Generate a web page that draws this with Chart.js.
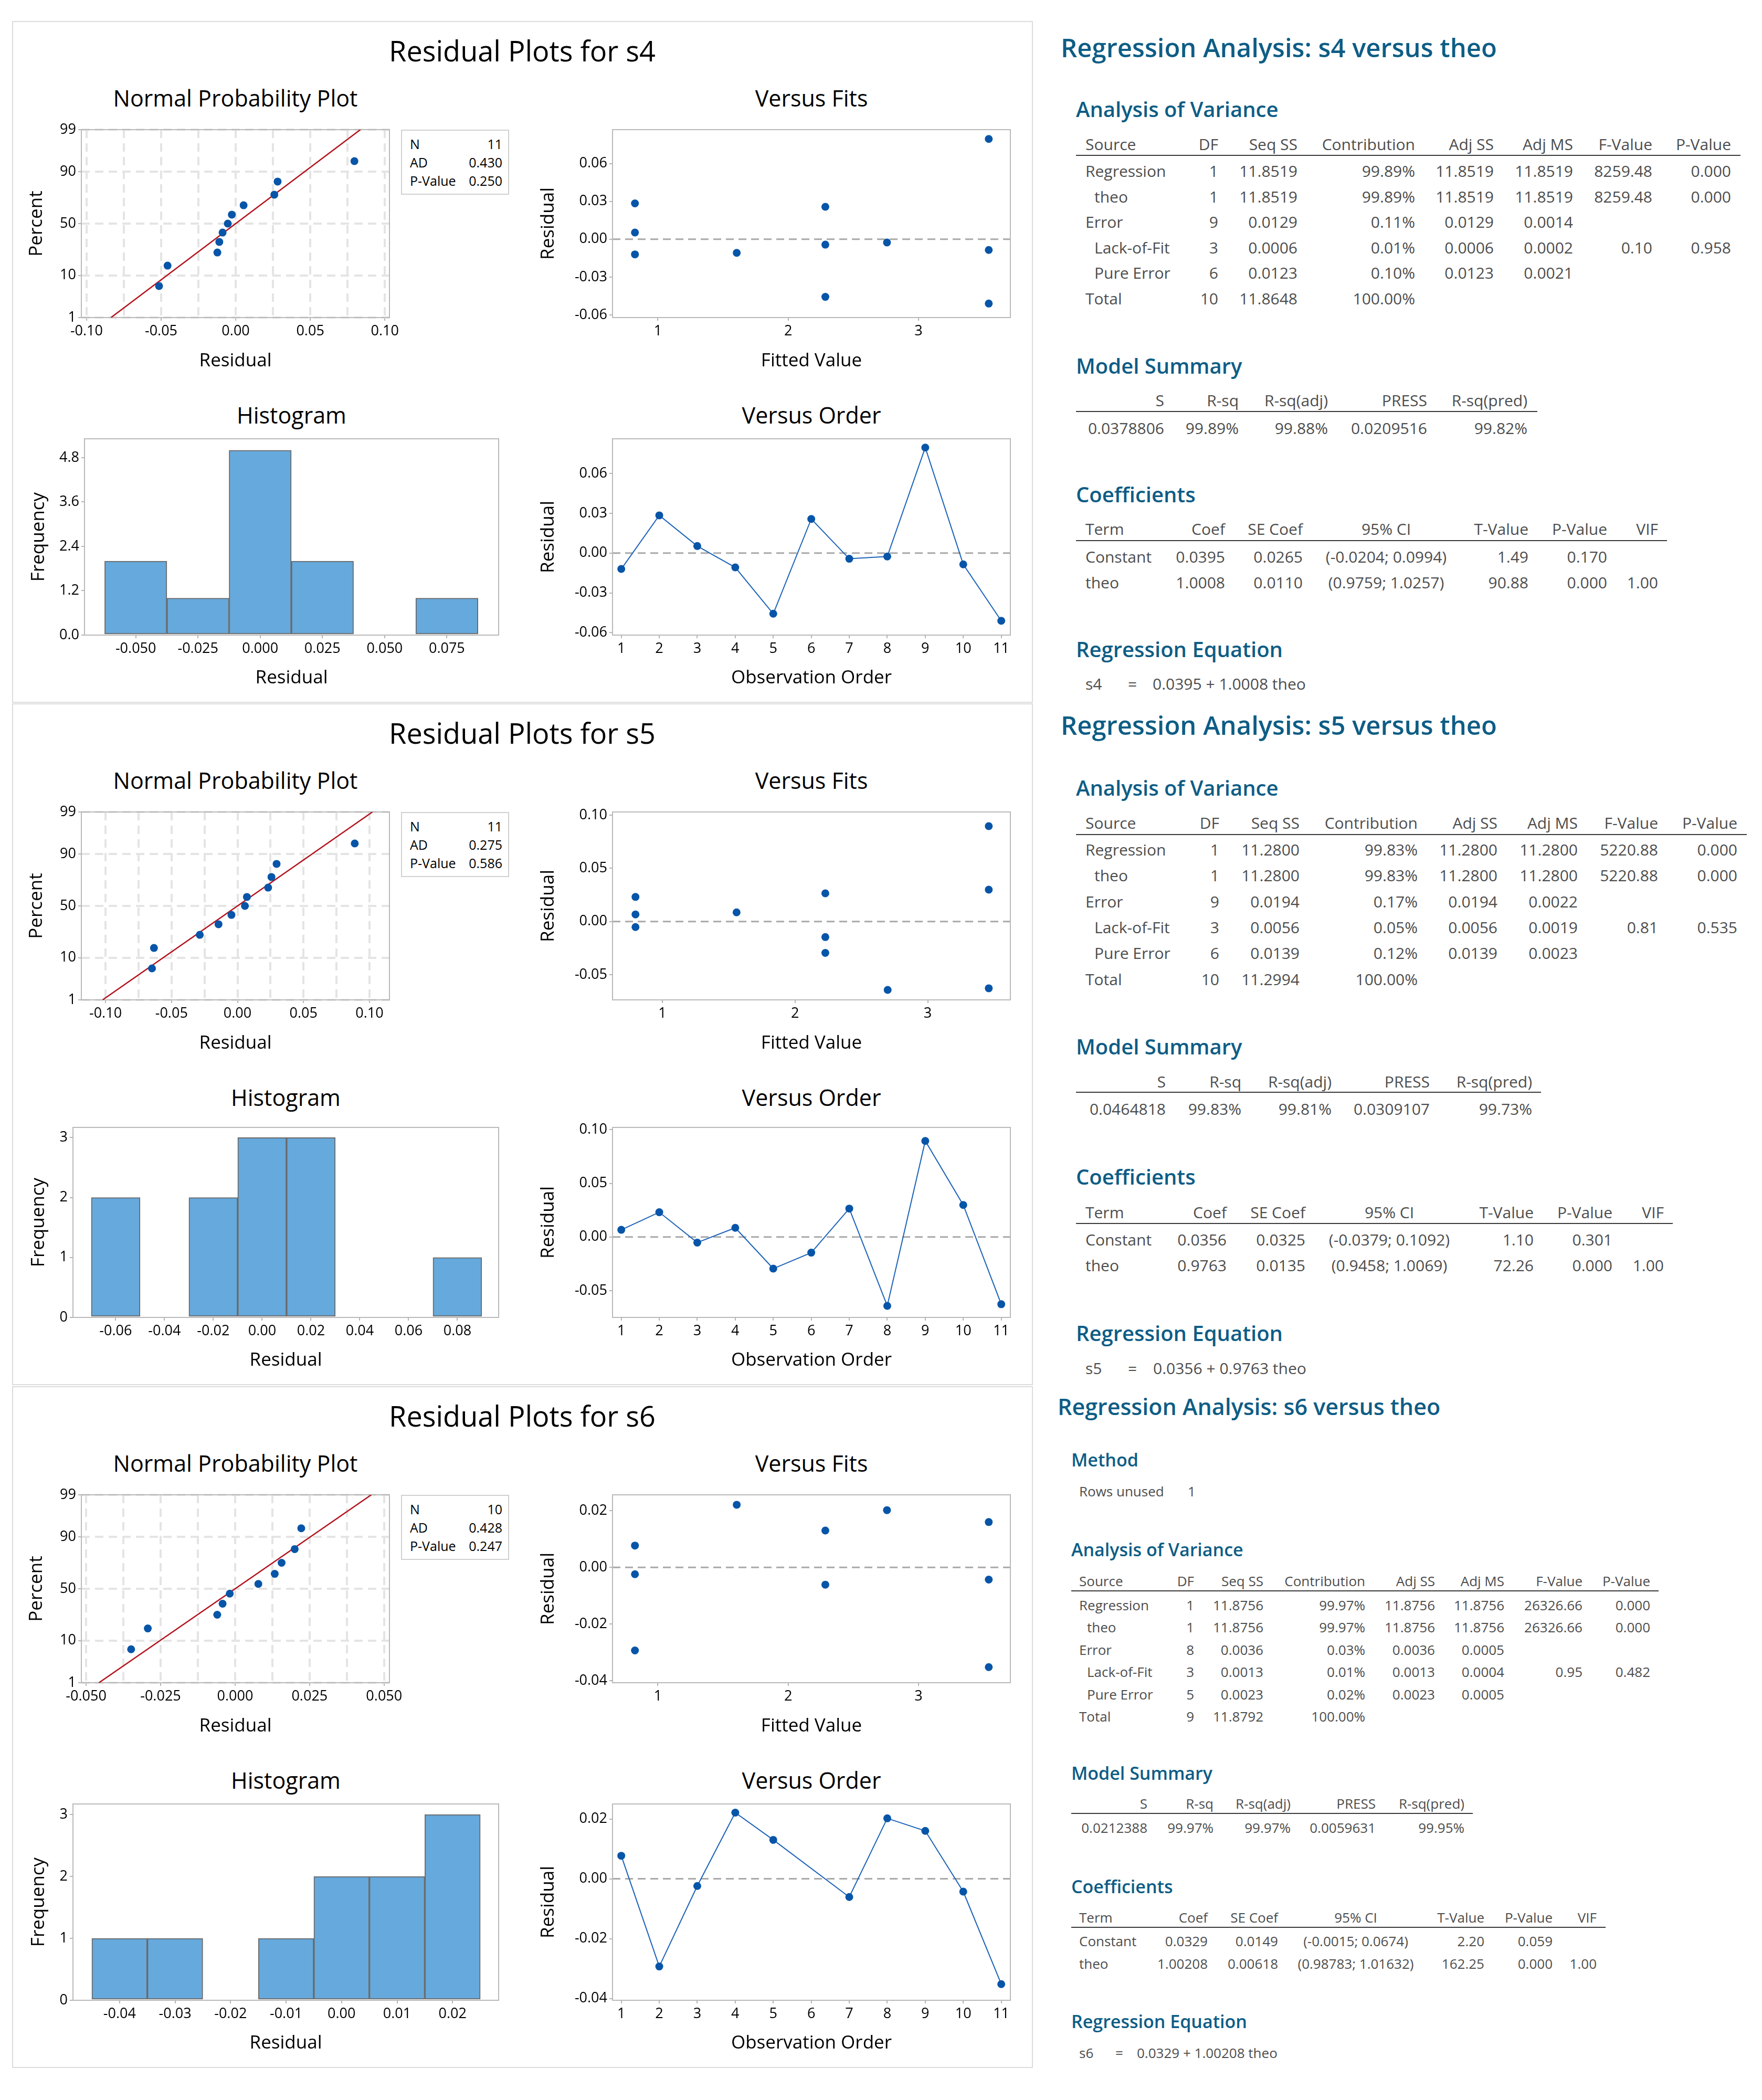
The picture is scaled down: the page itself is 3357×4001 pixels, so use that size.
<!DOCTYPE html>
<html>
<head>
<meta charset="utf-8">
<title>Residual Plots / Regression Analysis: s4, s5, s6 versus theo</title>
<script src="https://cdn.jsdelivr.net/npm/chart.js@4.4.1/dist/chart.umd.min.js"></script>
<style>
  html, body { margin: 0; padding: 0; background: #fff; }
  body { position: relative; width: 3357px; height: 4001px; overflow: hidden; font-family: 'Open Sans', sans-serif; }
  .panel { position: absolute; left: 23px; width: 1945px; height: 1299px; border: 2px solid #dcdcdc; box-sizing: border-box; }
  .t { position: absolute; white-space: pre; line-height: 1.25; color: #000; }
  .ptitle { font-size: 54px; }
  .sub { font-size: 43px; }
  .leg { position: absolute; border: 2px solid #d0d0d0; box-sizing: border-box; background: #fff; }
  .legt { font-size: 25px; }
  .rtitle, .rhead { font-weight: 600; color: #0e5d85; }
  .cell { color: #4d4d4d; }
  .rule { position: absolute; height: 2px; background: #3a3a3a; }
  canvas { position: absolute; }
</style>
</head>
<body>
<script>
'use strict';

// ── Datos ──────────────────────────────────────────────────────────────
const obsOrder = [1, 2, 3, 4, 5, 6, 7, 8, 9, 10, 11];
const fitLinePct = [1, 99];
const pctTicks = [1, 10, 50, 90, 99];
const fitTicks = [1, 2, 3];

// s4
const s4Resid  = [-0.0120, 0.0284, 0.0053, -0.0108, -0.0457, 0.0257, -0.0043, -0.0026, 0.0795, -0.0085, -0.0510];
const s4Fitted = [0.824, 0.824, 0.824, 1.605, 2.285, 2.285, 2.285, 2.758, 3.539, 3.539, 3.539];
const s4NppResid = [-0.0514, -0.0457, -0.0123, -0.0110, -0.0088, -0.0053, -0.0026, 0.0053, 0.0259, 0.0281, 0.0796];
const s4NppPct   = [6.1, 14.9, 23.7, 32.5, 41.2, 50.0, 58.8, 67.5, 76.3, 85.1, 93.9];
const s4LineResid = [-0.0836, 0.0836];
const s4HistBins   = [-0.050, -0.025, 0.000, 0.025, 0.050, 0.075];
const s4HistCounts = [2, 1, 5, 2, 0, 1];
const s4Legend = [['N', '11'], ['AD', '0.430'], ['P-Value', '0.250']];
const s4NppTicks   = [-0.1, -0.075, -0.05, -0.025, 0, 0.025, 0.05, 0.075, 0.1];
const s4ResidTicks = [-0.06, -0.03, 0, 0.03, 0.06];
const s4FreqTicks  = [0, 1.2, 2.4, 3.6, 4.8];

// s5
const s5Resid  = [0.0067, 0.0231, -0.0052, 0.0086, -0.0295, -0.0146, 0.0265, -0.0642, 0.0896, 0.0299, -0.0627];
const s5Fitted = [0.797, 0.797, 0.797, 1.559, 2.228, 2.228, 2.228, 2.698, 3.460, 3.460, 3.460];
const s5NppResid = [-0.0648, -0.0633, -0.0286, -0.0144, -0.0046, 0.0056, 0.0071, 0.0232, 0.0257, 0.0296, 0.0888];
const s5NppPct   = [6.1, 14.9, 23.7, 32.5, 41.2, 50.0, 58.8, 67.5, 76.3, 85.1, 93.9];
const s5LineResid = [-0.1022, 0.1022];
const s5HistBins   = [-0.06, -0.04, -0.02, 0.00, 0.02, 0.04, 0.06, 0.08];
const s5HistCounts = [2, 0, 2, 3, 3, 0, 0, 1];
const s5Legend = [['N', '11'], ['AD', '0.275'], ['P-Value', '0.586']];
const s5NppTicks   = [-0.1, -0.075, -0.05, -0.025, 0, 0.025, 0.05, 0.075, 0.1];
const s5ResidTicks = [-0.05, 0, 0.05, 0.10];
const s5FreqTicks  = [0, 1, 2, 3];

// s6 (observacion 6 sin usar)
const s6Resid  = [0.0077, -0.0293, -0.0024, 0.0221, 0.0130, null, -0.0061, 0.0202, 0.0160, -0.0043, -0.0352];
const s6Fitted = [0.824, 0.824, 0.824, 1.605, 2.285, 2.285, 2.285, 2.758, 3.539, 3.539, 3.539];
const s6NppResid = [-0.0349, -0.0293, -0.0060, -0.0042, -0.0018, 0.0078, 0.0133, 0.0156, 0.0200, 0.0222];
const s6NppPct   = [6.7, 16.3, 26.0, 35.6, 45.2, 54.8, 64.4, 74.0, 83.7, 93.3];
const s6LineResid = [-0.0457, 0.0457];
const s6HistBins   = [-0.04, -0.03, -0.02, -0.01, 0.00, 0.01, 0.02];
const s6HistCounts = [1, 1, 0, 1, 2, 2, 3];
const s6Legend = [['N', '10'], ['AD', '0.428'], ['P-Value', '0.247']];
const s6NppTicks   = [-0.05, -0.0375, -0.025, -0.0125, 0, 0.0125, 0.025, 0.0375, 0.05];
const s6ResidTicks = [-0.04, -0.02, 0, 0.02];
const s6FreqTicks  = [0, 1, 2, 3];

// ── Tablas de la regresion ─────────────────────────────────────────────
const aovHead  = ['Source', 'DF', 'Seq SS', 'Contribution', 'Adj SS', 'Adj MS', 'F-Value', 'P-Value'];
const msHead   = ['S', 'R-sq', 'R-sq(adj)', 'PRESS', 'R-sq(pred)'];
const coefHead = ['Term', 'Coef', 'SE Coef', '95% CI', 'T-Value', 'P-Value', 'VIF'];

const s4Aov = [
  ['Regression', '1', '11.8519', '99.89%', '11.8519', '11.8519', '8259.48', '0.000'],
  [' theo', '1', '11.8519', '99.89%', '11.8519', '11.8519', '8259.48', '0.000'],
  ['Error', '9', '0.0129', '0.11%', '0.0129', '0.0014', '', ''],
  [' Lack-of-Fit', '3', '0.0006', '0.01%', '0.0006', '0.0002', '0.10', '0.958'],
  [' Pure Error', '6', '0.0123', '0.10%', '0.0123', '0.0021', '', ''],
  ['Total', '10', '11.8648', '100.00%', '', '', '', ''],
];
const s4Ms = ['0.0378806', '99.89%', '99.88%', '0.0209516', '99.82%'];
const s4Coef = [
  ['Constant', '0.0395', '0.0265', '(-0.0204; 0.0994)', '1.49', '0.170', ''],
  ['theo', '1.0008', '0.0110', '(0.9759; 1.0257)', '90.88', '0.000', '1.00'],
];
const s4Eq = ['s4', '=', '0.0395 + 1.0008 theo'];

const s5Aov = [
  ['Regression', '1', '11.2800', '99.83%', '11.2800', '11.2800', '5220.88', '0.000'],
  [' theo', '1', '11.2800', '99.83%', '11.2800', '11.2800', '5220.88', '0.000'],
  ['Error', '9', '0.0194', '0.17%', '0.0194', '0.0022', '', ''],
  [' Lack-of-Fit', '3', '0.0056', '0.05%', '0.0056', '0.0019', '0.81', '0.535'],
  [' Pure Error', '6', '0.0139', '0.12%', '0.0139', '0.0023', '', ''],
  ['Total', '10', '11.2994', '100.00%', '', '', '', ''],
];
const s5Ms = ['0.0464818', '99.83%', '99.81%', '0.0309107', '99.73%'];
const s5Coef = [
  ['Constant', '0.0356', '0.0325', '(-0.0379; 0.1092)', '1.10', '0.301', ''],
  ['theo', '0.9763', '0.0135', '(0.9458; 1.0069)', '72.26', '0.000', '1.00'],
];
const s5Eq = ['s5', '=', '0.0356 + 0.9763 theo'];

const s6Aov = [
  ['Regression', '1', '11.8756', '99.97%', '11.8756', '11.8756', '26326.66', '0.000'],
  [' theo', '1', '11.8756', '99.97%', '11.8756', '11.8756', '26326.66', '0.000'],
  ['Error', '8', '0.0036', '0.03%', '0.0036', '0.0005', '', ''],
  [' Lack-of-Fit', '3', '0.0013', '0.01%', '0.0013', '0.0004', '0.95', '0.482'],
  [' Pure Error', '5', '0.0023', '0.02%', '0.0023', '0.0005', '', ''],
  ['Total', '9', '11.8792', '100.00%', '', '', '', ''],
];
const s6Ms = ['0.0212388', '99.97%', '99.97%', '0.0059631', '99.95%'];
const s6Coef = [
  ['Constant', '0.0329', '0.0149', '(-0.0015; 0.0674)', '2.20', '0.059', ''],
  ['theo', '1.00208', '0.00618', '(0.98783; 1.01632)', '162.25', '0.000', '1.00'],
];
const s6Eq = ['s6', '=', '0.0329 + 1.00208 theo'];
const s6Method = ['Rows unused', '1'];

// ── Estilo ─────────────────────────────────────────────────────────────
const BLUE = '#0755a8';
const LINE_BLUE = '#1a62b8';
const RED = '#b3121c';
const FRAME = '#b9b9b9';
const TICK_FS = 27;
const AXIS_FS = 35;
const PAD_T = 30, PAD_R = 45;

Chart.defaults.font.family = "'Open Sans', sans-serif";
Chart.defaults.color = '#000';

// ── Escala de probabilidad normal (Minitab) ────────────────────────────
function probit(p) {
  const a = [-3.969683028665376e+01, 2.209460984245205e+02, -2.759285104469687e+02, 1.383577518672690e+02, -3.066479806614716e+01, 2.506628277459239e+00];
  const b = [-5.447609879822406e+01, 1.615858368580409e+02, -1.556989798598866e+02, 6.680131188771972e+01, -1.328068155288572e+01];
  const c = [-7.784894002430293e-03, -3.223964580411365e-01, -2.400758277161838e+00, -2.549732539343734e+00, 4.374664141464968e+00, 2.938163982698783e+00];
  const d = [7.784695709041462e-03, 3.224671290700398e-01, 2.445134137142996e+00, 3.754408661907416e+00];
  const lo = 0.02425;
  if (p < lo) {
    const q = Math.sqrt(-2 * Math.log(p));
    return (((((c[0] * q + c[1]) * q + c[2]) * q + c[3]) * q + c[4]) * q + c[5]) / ((((d[0] * q + d[1]) * q + d[2]) * q + d[3]) * q + 1);
  }
  if (p > 1 - lo) return -probit(1 - p);
  const q = p - 0.5, r = q * q;
  return (((((a[0] * r + a[1]) * r + a[2]) * r + a[3]) * r + a[4]) * r + a[5]) * q / (((((b[0] * r + b[1]) * r + b[2]) * r + b[3]) * r + b[4]) * r + 1);
}

class ProbitScale extends Chart.Scale {
  determineDataLimits() {
    this.min = this.options.min;
    this.max = this.options.max;
  }
  buildTicks() {
    return pctTicks.map(v => ({ value: v }));
  }
  getLabelForValue(v) { return String(v); }
  configure() {
    super.configure();
    this._zMin = probit(this.min / 100);
    this._zRange = probit(this.max / 100) - this._zMin;
  }
  getPixelForValue(v) {
    return this.getPixelForDecimal((probit(v / 100) - this._zMin) / this._zRange);
  }
  getValueForPixel(px) {
    return this.min + (this.max - this.min) * this.getDecimalForPixel(px);
  }
}
ProbitScale.id = 'probit';
ProbitScale.defaults = {};
Chart.register(ProbitScale);

// marco del area de trazado + linea de referencia en cero
const framePlugin = {
  id: 'frame',
  defaults: { zeroLine: false },
  beforeDatasetsDraw(chart, args, opts) {
    const { ctx, chartArea: a } = chart;
    ctx.save();
    if (opts.zeroLine) {
      const y = chart.scales.y.getPixelForValue(0);
      ctx.strokeStyle = '#a9a9a9';
      ctx.lineWidth = 3;
      ctx.setLineDash([15, 9]);
      ctx.beginPath();
      ctx.moveTo(a.left, y);
      ctx.lineTo(a.right, y);
      ctx.stroke();
      ctx.setLineDash([]);
    }
    ctx.strokeStyle = FRAME;
    ctx.lineWidth = 2;
    ctx.strokeRect(a.left, a.top, a.right - a.left, a.bottom - a.top);
    ctx.restore();
  },
};
Chart.register(framePlugin);

// ── Helpers ────────────────────────────────────────────────────────────
function put(x, y, text, cls, align, size) {
  const d = document.createElement('div');
  d.className = 't ' + (cls || '');
  d.textContent = text;
  d.style.left = x + 'px';
  d.style.top = y + 'px';
  if (size) d.style.fontSize = size + 'px';
  d.style.transform = align === 'r' ? 'translate(-100%,-50%)'
                    : align === 'c' ? 'translate(-50%,-50%)'
                    : 'translate(0,-50%)';
  document.body.appendChild(d);
  return d;
}

function rule(x1, x2, y) {
  const d = document.createElement('div');
  d.className = 'rule';
  d.style.left = x1 + 'px';
  d.style.width = (x2 - x1) + 'px';
  d.style.top = (y - 1) + 'px';
  document.body.appendChild(d);
}

// canvas cuyo chartArea cae exactamente en (L,T)-(R,B)
function makeCanvas(L, T, R, B, W, H) {
  const c = document.createElement('canvas');
  const w = Math.round(R - L + W + PAD_R);
  const h = Math.round(B - T + H + PAD_T);
  c.width = w; c.height = h;
  c.style.width = w + 'px'; c.style.height = h + 'px';
  c.style.left = (L - W) + 'px';
  c.style.top = (T - PAD_T) + 'px';
  document.body.appendChild(c);
  return c;
}

function gridOpts(mode) {
  return {
    offset: false,
    drawOnChartArea: !!mode,
    color: '#e4e4e4',
    lineWidth: 4,
    drawTicks: true,
    tickLength: 6,
    tickWidth: 2,
    tickColor: ctx => (mode === 'alt' && ctx.index % 2) ? 'rgba(0,0,0,0)' : '#b4b4b4',
  };
}

function linAxis(min, max, ticks, fmt, title, fitSize, mode, vertical) {
  return {
    type: 'linear', min, max, bounds: 'data', offset: false,
    afterBuildTicks: s => { s.ticks = ticks.map(v => ({ value: v })); },
    afterFit: s => { if (vertical) s.width = fitSize; else s.height = fitSize; },
    ticks: {
      callback: (v, i) => fmt(v, i),
      font: { size: TICK_FS }, color: '#000', padding: 4,
      maxRotation: 0, minRotation: 0, autoSkip: false,
    },
    grid: gridOpts(mode),
    border: { display: false, dash: mode ? [16, 10] : [] },
    title: { display: true, text: title, font: { size: AXIS_FS }, color: '#000', padding: 0 },
  };
}

function baseOptions(scales, zeroLine) {
  return {
    responsive: false,
    devicePixelRatio: 1,
    animation: false,
    events: [],
    layout: { padding: { top: PAD_T, right: PAD_R, left: 0, bottom: 0 } },
    plugins: { legend: { display: false }, tooltip: { enabled: false }, frame: { zeroLine } },
    scales,
  };
}

// ── Graficos ───────────────────────────────────────────────────────────
function nppChart(canvas, p, W, H) {
  return new Chart(canvas, {
    type: 'scatter',
    data: {
      datasets: [
        {
          data: p.nppResid.map((r, i) => ({ x: r, y: p.nppPct[i] })),
          pointRadius: 7.5, backgroundColor: BLUE, borderWidth: 0,
        },
        {
          data: p.lineResid.map((r, i) => ({ x: r, y: fitLinePct[i] })),
          showLine: true, pointRadius: 0, borderColor: RED, borderWidth: 2.5,
        },
      ],
    },
    options: baseOptions({
      x: linAxis(p.nppX[0], p.nppX[1], p.nppTicks, (v, i) => i % 2 ? '' : v.toFixed(p.nppDec), 'Residual', H, 'alt', false),
      y: {
        type: 'probit', min: 1, max: 99,
        afterFit: s => { s.width = W; },
        ticks: { callback: v => String(v), font: { size: TICK_FS }, color: '#000', padding: 4 },
        grid: gridOpts('all'),
        border: { display: false, dash: [16, 10] },
        title: { display: true, text: 'Percent', font: { size: AXIS_FS }, color: '#000', padding: 0 },
      },
    }, false),
  });
}

function fitsChart(canvas, p, W, H) {
  return new Chart(canvas, {
    type: 'scatter',
    data: {
      datasets: [{
        data: p.fitted.map((f, i) => ({ x: f, y: p.resid[i] })),
        pointRadius: 7.5, backgroundColor: BLUE, borderWidth: 0,
      }],
    },
    options: baseOptions({
      x: linAxis(p.fitsX[0], p.fitsX[1], fitTicks, v => String(v), 'Fitted Value', H, null, false),
      y: linAxis(p.fitsY[0], p.fitsY[1], p.residTicks, v => v.toFixed(2), 'Residual', W, null, true),
    }, true),
  });
}

function orderChart(canvas, p, W, H) {
  return new Chart(canvas, {
    type: 'scatter',
    data: {
      datasets: [{
        data: obsOrder.map((o, i) => ({ x: o, y: p.resid[i] })),
        showLine: true, spanGaps: true,
        borderColor: LINE_BLUE, borderWidth: 2,
        pointRadius: 7.5, backgroundColor: BLUE, pointBorderWidth: 0,
      }],
    },
    options: baseOptions({
      x: linAxis(0.77, 11.24, obsOrder, v => String(v), 'Observation Order', H, null, false),
      y: linAxis(p.orderY[0], p.orderY[1], p.residTicks, v => v.toFixed(2), 'Residual', W, null, true),
    }, true),
  });
}

function histChart(canvas, p, W, H) {
  return new Chart(canvas, {
    type: 'bar',
    data: {
      datasets: [{
        data: p.bins.map((b, i) => ({ x: b, y: p.counts[i] })),
        backgroundColor: '#66a9dc', borderColor: '#6a6a6a', borderWidth: 2,
        borderSkipped: false, barPercentage: 1, categoryPercentage: 1,
      }],
    },
    options: baseOptions({
      x: linAxis(p.histX[0], p.histX[1], p.bins, v => v.toFixed(p.histDec), 'Residual', H, null, false),
      y: linAxis(0, p.histYMax, p.freqTicks, v => v.toFixed(p.freqDec), 'Frequency', W, null, true),
    }, false),
  });
}

// ── Paneles de residuos ────────────────────────────────────────────────
const panels = [
  {
    name: 's4', resid: s4Resid, fitted: s4Fitted, nppResid: s4NppResid, nppPct: s4NppPct, lineResid: s4LineResid,
    bins: s4HistBins, counts: s4HistCounts, legend: s4Legend, nppTicks: s4NppTicks, residTicks: s4ResidTicks, freqTicks: s4FreqTicks,
    nppX: [-0.1035, 0.1031], nppDec: 2, fitsX: [0.652, 3.705], fitsY: [-0.0621, 0.0869], orderY: [-0.0618, 0.0861],
    histX: [-0.0706, 0.0958], histYMax: 5.31, histDec: 3, freqDec: 1, histLeft: 161, botTop: 796,
  },
  {
    name: 's5', resid: s5Resid, fitted: s5Fitted, nppResid: s5NppResid, nppPct: s5NppPct, lineResid: s5LineResid,
    bins: s5HistBins, counts: s5HistCounts, legend: s5Legend, nppTicks: s5NppTicks, residTicks: s5ResidTicks, freqTicks: s5FreqTicks,
    nppX: [-0.1183, 0.1151], nppDec: 2, fitsX: [0.624, 3.623], fitsY: [-0.0736, 0.1029], orderY: [-0.075, 0.1022],
    histX: [-0.0775, 0.0969], histYMax: 3.17, histDec: 2, freqDec: 0, histLeft: 139, botTop: 808,
  },
  {
    name: 's6', resid: s6Resid, fitted: s6Fitted, nppResid: s6NppResid, nppPct: s6NppPct, lineResid: s6LineResid,
    bins: s6HistBins, counts: s6HistCounts, legend: s6Legend, nppTicks: s6NppTicks, residTicks: s6ResidTicks, freqTicks: s6FreqTicks,
    nppX: [-0.0516, 0.0518], nppDec: 3, fitsX: [0.652, 3.705], fitsY: [-0.0407, 0.0256], orderY: [-0.0406, 0.0250],
    histX: [-0.0484, 0.0283], histYMax: 3.17, histDec: 2, freqDec: 0, histLeft: 139, botTop: 796,
  },
];
const PANEL_TOPS = [40, 1340, 2641];

panels.forEach((p, k) => {
  const PT = PANEL_TOPS[k];
  const box = document.createElement('div');
  box.className = 'panel';
  box.style.top = PT + 'px';
  document.body.appendChild(box);

  put(995, PT + 57, 'Residual Plots for ' + p.name, 'ptitle', 'c');

  const topT = PT + 207, topB = PT + 565;
  const botT = PT + p.botTop, botB = PT + 1170;

  // probabilidad normal
  put((155 + 742) / 2, PT + 147, 'Normal Probability Plot', 'sub', 'c');
  nppChart(makeCanvas(155, topT, 742, topB, 106, 104), p, 106, 104);
  const lg = document.createElement('div');
  lg.className = 'leg';
  lg.style.left = '764px'; lg.style.top = topT + 'px';
  lg.style.width = '206px'; lg.style.height = '124px';
  document.body.appendChild(lg);
  p.legend.forEach((row, i) => {
    put(781, PT + 235 + i * 35, row[0], 'legt', 'l');
    put(957, PT + 235 + i * 35, row[1], 'legt', 'r');
  });

  // versus fits
  put((1167 + 1925) / 2, PT + 147, 'Versus Fits', 'sub', 'c');
  fitsChart(makeCanvas(1167, topT, 1925, topB, 143, 104), p, 143, 104);

  // histograma
  const hW = p.histLeft - 74 + 21;
  put((p.histLeft + 950) / 2, PT + 751, 'Histogram', 'sub', 'c');
  histChart(makeCanvas(p.histLeft, botT, 950, botB, hW, 103), p, hW, 103);

  // versus order
  put((1167 + 1925) / 2, PT + 751, 'Versus Order', 'sub', 'c');
  orderChart(makeCanvas(1167, botT, 1925, botB, 143, 103), p, 143, 103);
});

// ── Salida de la regresion ─────────────────────────────────────────────
const reports = [
  {
    title: 'Regression Analysis: s4 versus theo', aov: s4Aov, ms: s4Ms, coef: s4Coef, eq: s4Eq,
    fs: [49, 40, 30], titleX: 2021, titleY: 91, secX: 2050, colX: 2068, indent: 17,
    aovY: [208, 275, 296, 326, 48.6], aovCols: [2321, 2472, 2696, 2846, 2997, 3148, 3298], aovR: 3316,
    msY: [697, 763, 784, 816], msCols: [2218, 2360, 2530, 2719, 2910], msR: 2929,
    cfY: [942, 1008, 1030, 1061, 49], cfCols: [2334, 2482, 2641, 2912, 3062, 3159], cfR: 3176,
    eqY: [1237, 1303], eqX: [2068, 2149, 2196],
  },
  {
    title: 'Regression Analysis: s5 versus theo', aov: s5Aov, ms: s5Ms, coef: s5Coef, eq: s5Eq,
    fs: [49, 40, 30], titleX: 2021, titleY: 1382, secX: 2050, colX: 2068, indent: 17,
    aovY: [1501, 1568, 1590, 1619, 49.3], aovCols: [2323, 2476, 2701, 2853, 3006, 3159, 3310], aovR: 3328,
    msY: [1994, 2061, 2081, 2113], msCols: [2221, 2365, 2537, 2724, 2919], msR: 2936,
    cfY: [2242, 2310, 2331, 2362, 49], cfCols: [2337, 2487, 2647, 2922, 3072, 3170], cfR: 3187,
    eqY: [2540, 2607], eqX: [2068, 2149, 2197],
  },
  {
    title: 'Regression Analysis: s6 versus theo', aov: s6Aov, ms: s6Ms, coef: s6Coef, eq: s6Eq, method: s6Method,
    fs: [43, 34, 26], titleX: 2015, titleY: 2680, secX: 2041, colX: 2056, indent: 15,
    methodY: [2781, 2841], methodX: 2263,
    aovY: [2952, 3012, 3031, 3058, 42.4], aovCols: [2275, 2407, 2601, 2734, 2866, 3015, 3144], aovR: 3160,
    msY: [3378, 3436, 3455, 3482], msCols: [2186, 2312, 2459, 2621, 2790], msR: 2806,
    cfY: [3594, 3653, 3672, 3698, 43], cfCols: [2301, 2435, 2583, 2828, 2958, 3042], cfR: 3059,
    eqY: [3851, 3911], eqX: [2056, 2125, 2166],
  },
];

function renderTable(head, rows, r, cols, Y, right, aligns) {
  const fsT = r.fs[2];
  put(r.colX, Y[1], head[0], 'cell', 'l', fsT);
  head.slice(1).forEach((h, i) => put(cols[i], Y[1], h, 'cell', aligns[i], fsT));
  rule(r.secX, right, Y[2]);
  rows.forEach((row, j) => {
    const y = Y[3] + j * Y[4];
    const name = row[0];
    put(name.startsWith(' ') ? r.colX + r.indent : r.colX, y, name.trim(), 'cell', 'l', fsT);
    row.slice(1).forEach((v, i) => { if (v) put(cols[i], y, v, 'cell', aligns[i], fsT); });
  });
}

reports.forEach(r => {
  const [fsTitle, fsHead, fsT] = r.fs;
  put(r.titleX, r.titleY, r.title, 'rtitle', 'l', fsTitle);

  if (r.method) {
    put(r.secX, r.methodY[0], 'Method', 'rhead', 'l', fsHead);
    put(r.colX, r.methodY[1], r.method[0], 'cell', 'l', fsT);
    put(r.methodX, r.methodY[1], r.method[1], 'cell', 'l', fsT);
  }

  put(r.secX, r.aovY[0], 'Analysis of Variance', 'rhead', 'l', fsHead);
  renderTable(aovHead, r.aov, r, r.aovCols, r.aovY, r.aovR, ['r', 'r', 'r', 'r', 'r', 'r', 'r']);

  put(r.secX, r.msY[0], 'Model Summary', 'rhead', 'l', fsHead);
  msHead.forEach((h, i) => put(r.msCols[i], r.msY[1], h, 'cell', 'r', fsT));
  rule(r.secX, r.msR, r.msY[2]);
  r.ms.forEach((v, i) => put(r.msCols[i], r.msY[3], v, 'cell', 'r', fsT));

  put(r.secX, r.cfY[0], 'Coefficients', 'rhead', 'l', fsHead);
  renderTable(coefHead, r.coef, r, r.cfCols, r.cfY, r.cfR, ['r', 'r', 'c', 'r', 'r', 'r']);

  put(r.secX, r.eqY[0], 'Regression Equation', 'rhead', 'l', fsHead);
  r.eq.forEach((v, i) => put(r.eqX[i], r.eqY[1], v, 'cell', 'l', fsT));
});
</script>
</body>
</html>
